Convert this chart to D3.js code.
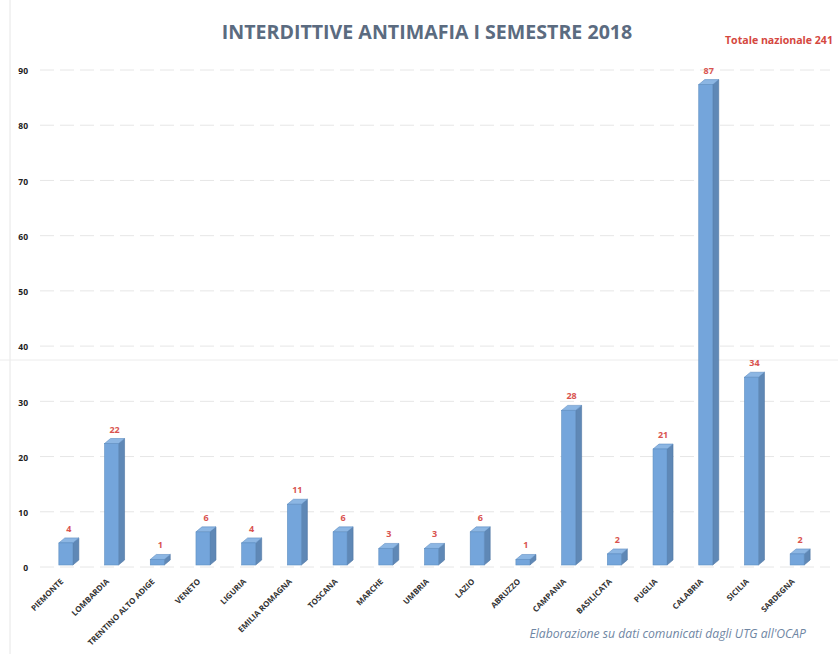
<!DOCTYPE html>
<html>
<head>
<meta charset="utf-8">
<script src="https://cdn.jsdelivr.net/npm/d3@7"></script>
<style>
  html, body { margin: 0; padding: 0; background: #ffffff; }
  svg { display: block; }
</style>
</head>
<body>
<script>
const regions = ["PIEMONTE","LOMBARDIA","TRENTINO ALTO ADIGE","VENETO","LIGURIA","EMILIA ROMAGNA","TOSCANA","MARCHE","UMBRIA","LAZIO","ABRUZZO","CAMPANIA","BASILICATA","PUGLIA","CALABRIA","SICILIA","SARDEGNA"];
const values = [4,22,1,6,4,11,6,3,3,6,1,28,2,21,87,34,2];
const yTicks = [0,10,20,30,40,50,60,70,80,90];
const titleText = "INTERDITTIVE ANTIMAFIA I SEMESTRE 2018";
const totalText = "Totale nazionale 241";
const sourceText = "Elaborazione su dati comunicati dagli UTG all'OCAP";

const W = 838, H = 654;
const svg = d3.select("body").append("svg").attr("width", W).attr("height", H);

const x = d3.scaleBand().domain(regions).range([44, 821]);
const y = d3.scaleLinear().domain([0, 90]).range([565, 68]);

const font = "'Open Sans', 'DejaVu Sans', sans-serif";

// scan artifacts: faint border lines
svg.append("line").attr("x1", 10).attr("x2", 10).attr("y1", 0).attr("y2", H)
  .attr("stroke", "#e6e6e6").attr("stroke-width", 1);
svg.append("line").attr("x1", 0).attr("x2", W).attr("y1", 360).attr("y2", 360)
  .attr("stroke", "#ececec").attr("stroke-width", 1);

// gridlines
svg.append("g").selectAll("line").data(yTicks).join("line")
  .attr("x1", 40).attr("x2", 830)
  .attr("y1", d => y(d) + 2).attr("y2", d => y(d) + 2)
  .attr("stroke", "#e6e6e6").attr("stroke-width", 1)
  .attr("stroke-dasharray", "14,6");

// y axis labels
const yAxis = d3.axisLeft(y).tickValues(yTicks).tickSize(0).tickPadding(0);
const ga = svg.append("g").attr("transform", "translate(28,3)").call(yAxis);
ga.select(".domain").remove();
ga.selectAll("text").attr("font-family", font).attr("font-size", 8.5)
  .attr("font-weight", "bold").attr("fill", "#222");

// bars (3D-like)
const bw = 14, dep = 6;
const gb = svg.append("g");
regions.forEach((r, i) => {
  const cx = x(r) + x.bandwidth() / 2;
  const x0 = cx - 8, x1 = x0 + bw;
  const yt = y(values[i]), yb = y(0);
  gb.append("path")
    .attr("d", `M${x1},${yb} L${x1 + dep},${yb - dep + 1} L${x1 + dep},${yt - dep + 1} L${x1},${yt} Z`)
    .attr("fill", "#5f88b6").attr("stroke", "#4f76a2").attr("stroke-width", 0.6);
  gb.append("path")
    .attr("d", `M${x0},${yt} L${x0 + dep},${yt - dep + 1} L${x1 + dep},${yt - dep + 1} L${x1},${yt} Z`)
    .attr("fill", "#8cb6e3").attr("stroke", "#5f8fc2").attr("stroke-width", 0.6);
  gb.append("rect").attr("x", x0).attr("y", yt).attr("width", bw).attr("height", yb - yt)
    .attr("fill", "#74a5db").attr("stroke", "#5f8fc2").attr("stroke-width", 0.6);
  gb.append("text").attr("x", cx + 2).attr("y", yt - dep - 5)
    .attr("text-anchor", "middle").attr("font-family", font).attr("font-size", 9)
    .attr("font-weight", "bold").attr("fill", "#d9534f").text(values[i]);
});

// x labels
svg.append("g").selectAll("text").data(regions).join("text")
  .attr("transform", d => `translate(${x(d) + x.bandwidth() / 2 - 3},${582}) rotate(-45)`)
  .attr("text-anchor", "end").attr("font-family", font).attr("font-size", 8)
  .attr("font-weight", "bold").attr("fill", "#333").text(d => d);

// title
svg.append("text").attr("x", 427).attr("y", 39).attr("text-anchor", "middle")
  .attr("font-family", font).attr("font-size", 19.6).attr("font-weight", "bold")
  .attr("fill", "#5b6b80").text(titleText);

svg.append("text").attr("x", 833).attr("y", 44).attr("text-anchor", "end")
  .attr("font-family", font).attr("font-size", 10.6).attr("font-weight", "bold")
  .attr("fill", "#d5483f").text(totalText);

svg.append("text").attr("x", 806).attr("y", 638).attr("text-anchor", "end")
  .attr("font-family", font).attr("font-size", 12.2).attr("font-style", "italic")
  .attr("fill", "#6f86a3").text(sourceText);
</script>
</body>
</html>
